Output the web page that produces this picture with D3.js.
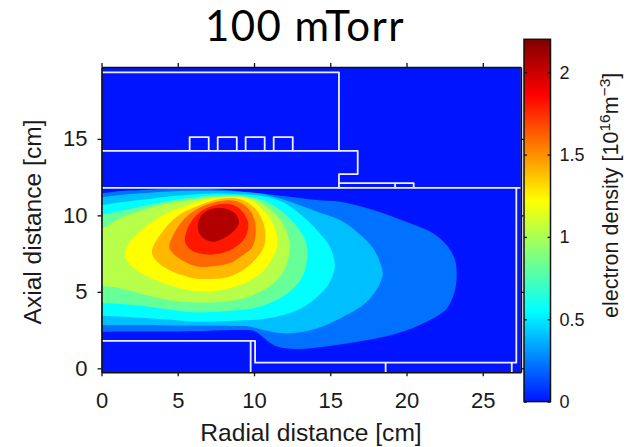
<!DOCTYPE html>
<html>
<head>
<meta charset="utf-8">
<script src="https://cdn.jsdelivr.net/npm/d3@7"></script>
<style>
html, body { margin: 0; padding: 0; background: #fff; }
text { font-family: "Liberation Sans", sans-serif; fill: #1a1a1a; }
</style>
</head>
<body>
<div id="canvas"></div>
<script>
"use strict"

/* axis ticks */
const xTicks = [0, 5, 10, 15, 20, 25];
const yTicks = [0, 5, 10, 15];
const barTicks = [0, 0.5, 1, 1.5, 2];
const barTickLabels = ["0", "0.5", "1", "1.5", "2"];

/* colour map of the bar, value -> colour */
const jetValues = [0, 0.55, 1.22, 1.86, 2.2];
const jetColours = ["#0014ff", "#00ffff", "#ffff00", "#ff0000", "#800000"];

/* density of each filled band, lowest first */
const levels = [0.22, 0.4, 0.55, 0.82, 1.03, 1.22, 1.4, 1.6, 1.8, 2.07];

/* band outlines, [radial cm, axial cm] */
const band1 = [[-1, 11.44], [0, 11.44], [1.21, 11.59], [2.52, 11.65], [4.27, 11.72], [6.02, 11.74], [7.99, 11.68], [9.74, 11.5], [11.92, 11.26], [14.11, 11], [15.64, 10.89], [17.82, 10.35], [20.01, 9.56], [21.76, 8.82], [22.63, 8.06], [23.18, 7.08], [23.29, 6.2], [23.18, 5.12], [22.63, 3.9], [21.32, 3.05], [19.36, 2.27], [17.17, 1.8], [14.98, 1.46], [12.8, 1.26], [11.7, 1.37], [11.05, 1.67], [10.39, 2.2], [9.95, 2.45], [9.08, 2.5], [5.8, 2.42], [2.52, 2.4], [0, 2.39], [-1, 2.39]];
const band2 = [[-1, 11.2], [0, 11.2], [1.21, 11.33], [2.52, 11.44], [4.27, 11.55], [6.02, 11.61], [7.99, 11.6], [9.74, 11.5], [11, 11.3], [12.69, 10.78], [14.2, 10.22], [15.64, 9.69], [16.73, 8.93], [17.82, 7.84], [18.37, 6.6], [18.44, 6.2], [18.26, 5.55], [17.39, 4.35], [15.86, 3.37], [14.11, 2.61], [12.14, 2.28], [10.61, 2.5], [9.74, 2.72], [9.08, 2.76], [4.71, 2.8], [1.87, 2.83], [0, 2.83], [-1, 2.83]];
const band3 = [[-1, 10.67], [0, 10.67], [1.21, 10.85], [2.52, 11], [4.27, 11.22], [6.02, 11.37], [8.2, 11.42], [10.3, 11.3], [11.7, 10.95], [13, 10.1], [14.2, 8.95], [15, 7.9], [15.3, 6.75], [15.2, 6.2], [14.77, 5.33], [13.46, 4.14], [11.92, 3.48], [10.39, 3.2], [9.08, 3.13], [6.13, 3.05], [4.71, 3.16], [1.43, 3.37], [0, 3.44], [-1, 3.44]];
const band4 = [[-1, 10.06], [0, 10.06], [1.21, 10.28], [2.52, 10.57], [4.27, 10.9], [6.02, 11.16], [7.9, 11.32], [9.6, 11.22], [10.7, 10.95], [11.7, 10.35], [12.7, 9.4], [13.35, 8.4], [13.5, 7.6], [13.34, 6.42], [12.8, 5.44], [11.49, 4.46], [9.95, 3.92], [9.08, 3.81], [6.13, 3.66], [4.71, 3.81], [2.09, 4.14], [0, 4.25], [-1, 4.25]];
const band5 = [[-1, 9.15], [0, 9.15], [1.21, 9.8], [2.74, 10.35], [4.27, 10.78], [6.46, 11.11], [8.5, 11.25], [9.9, 11.1], [11.05, 10.4], [11.85, 9.55], [12.3, 8.4], [12.35, 7.7], [11.97, 6.42], [11.27, 5.55], [10.18, 4.9], [9.08, 4.51], [7.22, 4.31], [6.13, 4.31], [4.71, 4.42], [2.52, 4.9], [0.99, 5.29], [0, 5.38], [-1, 5.38]];
const band6 = [[1.54, 7.62], [1.87, 8.28], [3.18, 9.47], [4.49, 10.24], [6.02, 10.78], [7.12, 11.11], [8.6, 11.2], [9.7, 11.05], [10.5, 10.45], [11.16, 9.6], [11.5, 8.7], [11.5, 7.86], [10.66, 6.42], [9.95, 5.88], [9.08, 5.44], [7.88, 5.12], [6.13, 5.05], [3.84, 5.66], [2.31, 6.42], [1.65, 7.08]];
const band7 = [[3.3, 7.6], [3.84, 8.71], [4.93, 9.91], [6.46, 10.67], [7.9, 11.1], [9.1, 11.05], [10.07, 10.45], [10.57, 9.63], [10.75, 8.7], [10.61, 7.86], [9.74, 6.77], [8.43, 6.01], [6.79, 5.84], [6.13, 5.88], [4.49, 6.4], [3.62, 7]];
const band8 = [[4.45, 7.9], [4.82, 8.93], [5.69, 10.02], [7.12, 10.78], [8.75, 10.95], [9.63, 10.45], [10.05, 9.63], [10.1, 8.7], [9.85, 7.86], [9.3, 7.43], [8.43, 6.88], [7, 6.64], [6.13, 6.69], [4.82, 7.4]];
const band9 = [[5.48, 8.28], [5.69, 9.26], [6.35, 10.13], [7.12, 10.57], [8.32, 10.75], [9, 10.48], [9.6, 9.6], [9.45, 8.6], [8.64, 7.84], [7.44, 7.45], [6.46, 7.51], [5.85, 7.75]];
const band10 = [[7.99, 10.46], [8.75, 10.13], [9.02, 9.58], [8.75, 9.04], [7.99, 8.49], [7.22, 8.28], [6.57, 8.6], [6.31, 9.26], [6.57, 10.02], [7.22, 10.41]];
const bands = [band1, band2, band3, band4, band5, band6, band7, band8, band9, band10];

/* chamber walls, white lines in cm */
const chamberTop = [[0, 19.35], [15.57, 19.35], [15.57, 14.22]];
const chamberMid = [[0, 14.22], [16.8, 14.22], [16.8, 12.7], [15.57, 12.7], [15.57, 11.8]];
const chamberFloor = [[0, 11.8], [27.5, 11.8]];
const chamberWall = [[27.2, 11.8], [27.2, 0.37], [10.07, 0.37], [10.07, 1.8], [0, 1.8]];
const pedestal = [[9.78, 1.8], [9.78, -0.26]];
const port1 = [[18.63, 0.37], [18.63, -0.26]];
const port2 = [[26.9, 0.37], [26.9, -0.26]];
const coil1 = [[5.78, 14.22], [5.78, 15.12], [7.03, 15.12], [7.03, 14.22]];
const coil2 = [[7.62, 14.22], [7.62, 15.12], [8.87, 15.12], [8.87, 14.22]];
const coil3 = [[9.45, 14.22], [9.45, 15.12], [10.7, 15.12], [10.7, 14.22]];
const coil4 = [[11.29, 14.22], [11.29, 15.12], [12.54, 15.12], [12.54, 14.22]];
const shelf = [[15.57, 12.11], [20.47, 12.11], [20.47, 11.8]];
const shelfPost = [[19.25, 12.11], [19.25, 11.8]];
const walls = [chamberTop, chamberMid, chamberFloor, chamberWall, pedestal, port1, port2, coil1, coil2, coil3, coil4, shelf, shelfPost];

let drawing = d3.select("#canvas")
    .append("svg")
    .attr("width", 627)
    .attr("height", 447)
    .style("display", "block");

let x = d3.scaleLinear().domain([0, 27.5]).range([101.5, 520.9]);
let y = d3.scaleLinear().domain([-0.26, 19.7]).range([372.3, 67]);
let barY = d3.scaleLinear().domain([0, 2.2]).range([401.6, 39.3]);
let jet = d3.scaleLinear().domain(jetValues).range(jetColours);

/* plot area */
drawing.append("defs").append("clipPath")
    .attr("id", "plotClip")
    .append("rect")
    .attr("x", x(0))
    .attr("y", y(19.7))
    .attr("width", x(27.5) - x(0))
    .attr("height", y(-0.26) - y(19.7));

let plot = drawing.append("g").attr("clip-path", "url(#plotClip)");

plot.append("rect")
    .attr("x", x(0))
    .attr("y", y(19.7))
    .attr("width", x(27.5) - x(0))
    .attr("height", y(-0.26) - y(19.7))
    .attr("fill", jet(0));

let bandLine = d3.line()
    .x(d => x(d[0]))
    .y(d => y(d[1]))
    .curve(d3.curveCatmullRomClosed.alpha(0.5));

plot.selectAll(".band")
    .data(bands)
    .join("path")
    .attr("class", "band")
    .attr("d", bandLine)
    .attr("fill", (d, i) => jet(levels[i]));

let wallLine = d3.line().x(d => x(d[0])).y(d => y(d[1]));

plot.selectAll(".wall")
    .data(walls)
    .join("path")
    .attr("class", "wall")
    .attr("d", wallLine)
    .attr("fill", "none")
    .attr("stroke", "#eef0ff")
    .attr("stroke-width", 1.8)
    .attr("stroke-linejoin", "round");

/* axes, both sides get ticks but only bottom and left get numbers */
function styleAxis(g, size) {
    g.selectAll("path").attr("stroke", "#111").attr("stroke-width", 1.6);
    g.selectAll("line").attr("stroke", "#111").attr("stroke-width", 1.3);
    g.selectAll("text").style("font-size", size + "px").attr("fill", "#1a1a1a");
}

drawing.append("g")
    .attr("transform", "translate(0," + y(-0.26) + ")")
    .call(d3.axisBottom(x).tickValues(xTicks).tickSize(4).tickSizeOuter(0).tickPadding(16))
    .call(styleAxis, 22);

drawing.append("g")
    .attr("transform", "translate(0," + y(19.7) + ")")
    .call(d3.axisTop(x).tickValues(xTicks).tickSize(4).tickSizeOuter(0).tickFormat(""))
    .call(styleAxis, 22);

drawing.append("g")
    .attr("transform", "translate(" + x(0) + ",0)")
    .call(d3.axisLeft(y).tickValues(yTicks).tickSize(4).tickSizeOuter(0).tickPadding(10))
    .call(styleAxis, 22);

drawing.append("g")
    .attr("transform", "translate(" + x(27.5) + ",0)")
    .call(d3.axisRight(y).tickValues(yTicks).tickSize(3).tickSizeOuter(0).tickFormat(""))
    .call(styleAxis, 22);

drawing.append("text")
    .attr("x", 311)
    .attr("y", 441)
    .attr("text-anchor", "middle")
    .style("font-size", "24.6px")
    .text("Radial distance [cm]");

drawing.append("text")
    .attr("transform", "translate(41,222) rotate(-90)")
    .attr("text-anchor", "middle")
    .style("font-size", "24.6px")
    .text("Axial distance [cm]");

drawing.append("text")
    .attr("x", 305)
    .attr("y", 41)
    .attr("text-anchor", "middle")
    .style("font-family", "Lato")
    .style("font-size", "42px")
    .style("letter-spacing", "1.4px")
    .style("fill", "#000")
    .text("100 mTorr");

/* colour bar */
let grad = drawing.select("defs").append("linearGradient")
    .attr("id", "barGrad")
    .attr("x1", 0).attr("y1", 1).attr("x2", 0).attr("y2", 0);

grad.selectAll("stop")
    .data(jetValues)
    .join("stop")
    .attr("offset", d => d / 2.2)
    .attr("stop-color", d => jet(d));

drawing.append("rect")
    .attr("x", 524)
    .attr("y", barY(2.2))
    .attr("width", 26.5)
    .attr("height", barY(0) - barY(2.2))
    .attr("fill", "url(#barGrad)")
    .attr("stroke", "#111")
    .attr("stroke-width", 1.5);

drawing.append("g")
    .attr("transform", "translate(550.5,0)")
    .call(d3.axisRight(barY).tickValues(barTicks).tickSize(-3).tickSizeOuter(0).tickPadding(9)
        .tickFormat((d, i) => barTickLabels[i]))
    .call(styleAxis, 18)
    .call(g => g.select("path").remove());

drawing.append("g")
    .attr("transform", "translate(524,0)")
    .call(d3.axisLeft(barY).tickValues(barTicks).tickSize(-3).tickSizeOuter(0).tickFormat(""))
    .call(styleAxis, 18)
    .call(g => g.select("path").remove());

let barLabel = drawing.append("text")
    .attr("transform", "translate(618,318) rotate(-90)")
    .style("font-size", "21.5px");

barLabel.append("tspan").text("electron density [10");
barLabel.append("tspan").attr("dy", -8).style("font-size", "15.5px").text("16");
barLabel.append("tspan").attr("dy", 8).text("m");
barLabel.append("tspan").attr("dy", -8).style("font-size", "15.5px").text("\u22123");
barLabel.append("tspan").attr("dy", 8).text("]");
</script>
</body>
</html>
